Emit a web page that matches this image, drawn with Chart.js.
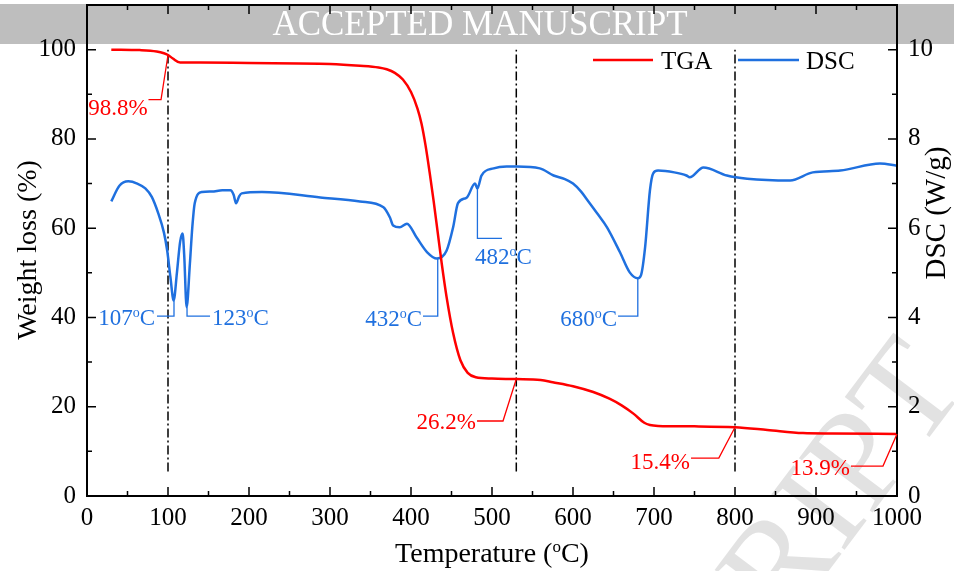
<!DOCTYPE html>
<html>
<head>
<meta charset="utf-8">
<script src="https://cdn.jsdelivr.net/npm/chart.js@4.4.1/dist/chart.umd.min.js"></script>
<style>
  html, body { margin: 0; padding: 0; background: #fff; }
  #wrap { width: 954px; height: 571px; }
</style>
</head>
<body>
<div id="wrap"><canvas id="tgaChart" width="954" height="571"></canvas></div>
<script>
// TGA curve: temperature (°C) vs weight (%)
const tgaTemp = [30, 65, 86, 95, 100, 106, 115, 140, 200, 300, 337, 360, 370, 380, 390, 400, 408, 413, 418, 423, 428, 433, 438, 444, 452, 461, 470, 480, 500, 530, 560, 575, 600, 625, 645, 660, 675, 688, 695, 705, 750, 800, 840, 884, 920, 1000];
const tgaWeight = [100, 99.9, 99.6, 99.2, 98.8, 98.0, 97.1, 97.1, 97.0, 96.8, 96.4, 96.0, 95.6, 94.8, 93.3, 90.5, 86.8, 83.4, 78.5, 72.5, 66.0, 59.0, 52.0, 44.5, 36.5, 30.4, 27.6, 26.6, 26.3, 26.2, 26.0, 25.5, 24.6, 23.3, 21.8, 20.3, 18.4, 16.4, 15.9, 15.7, 15.6, 15.4, 14.8, 14.1, 14.0, 13.9];

// DSC curve: temperature (°C) vs heat flow (W/g)
const dscTemp = [30, 40, 51, 62, 72, 80, 88, 95, 99, 103, 107, 111, 115, 118, 120, 123, 127, 130, 133, 142, 154, 167, 177, 181, 184, 188, 191, 216, 288, 337, 366, 374, 378, 386, 395, 407, 420, 432, 444, 452, 458, 469, 479, 482, 487, 502, 518, 531, 559, 576, 590, 600, 610, 617, 630, 642, 658, 670, 680, 684, 689, 695, 699, 705, 725, 740, 744, 761, 790, 815, 868, 896, 930, 979, 1000];
const dscFlow = [6.60, 6.95, 7.05, 7.00, 6.89, 6.70, 6.33, 5.90, 5.50, 4.90, 4.38, 5.00, 5.70, 5.88, 5.40, 4.23, 5.20, 6.02, 6.56, 6.81, 6.82, 6.85, 6.85, 6.75, 6.56, 6.72, 6.78, 6.81, 6.69, 6.60, 6.47, 6.24, 6.06, 6.02, 6.10, 5.79, 5.46, 5.32, 5.50, 6.02, 6.56, 6.69, 7.00, 6.89, 7.18, 7.34, 7.38, 7.38, 7.34, 7.18, 7.10, 7.00, 6.82, 6.65, 6.33, 6.02, 5.46, 5.01, 4.88, 4.95, 5.57, 6.85, 7.23, 7.29, 7.25, 7.18, 7.14, 7.36, 7.18, 7.11, 7.07, 7.25, 7.29, 7.45, 7.40];

const tempTicks = [0, 100, 200, 300, 400, 500, 600, 700, 800, 900, 1000];
const weightTicks = [0, 20, 40, 60, 80, 100];
const dscTicks = [0, 2, 4, 6, 8, 10];

// dash-dot guide lines
const guideTemps = [100, 530, 800];
const guideSpan = [5.5, 100];

const SERIF = "'Liberation Serif', 'Times New Roman', serif";
const red = '#ff0000';
const blue = '#1f70df';

// callouts: leader path and text anchor in data units
const notes = [
  { text: '98.8%', axis: 'y', color: red, path: [[100, 98.8], [91.4, 88.8], [75.9, 88.8]], at: [74.8, 87.0], align: 'right' },
  { text: '26.2%', axis: 'y', color: red, path: [[530, 26.2], [513.6, 16.8], [481.5, 16.8]], at: [480, 16.6], align: 'right' },
  { text: '15.4%', axis: 'y', color: red, path: [[800, 15.4], [780, 8.5], [745.7, 8.5]], at: [744.4, 7.8], align: 'right' },
  { text: '13.9%', axis: 'y', color: red, path: [[1000, 13.9], [982.7, 6.7], [943.2, 6.7]], at: [942, 6.4], align: 'right' },
  { text: '107°C', axis: 'y2', color: blue, path: [[107.4, 4.38], [107.4, 4.03], [86.4, 4.03]], at: [84, 4.0], align: 'right' },
  { text: '123°C', axis: 'y2', color: blue, path: [[123.5, 4.23], [123.5, 4.03], [151.9, 4.03]], at: [154.3, 4.0], align: 'left' },
  { text: '432°C', axis: 'y2', color: blue, path: [[433, 5.32], [433, 4.03], [414.8, 4.03]], at: [413.6, 3.97], align: 'right' },
  { text: '482°C', axis: 'y2', color: blue, path: [[482, 6.89], [482, 5.77], [512.3, 5.77]], at: [479, 5.36], align: 'left' },
  { text: '680°C', axis: 'y2', color: blue, path: [[680, 4.88], [680, 4.03], [655.6, 4.03]], at: [654.3, 3.97], align: 'right' }
];

function zip(xs, ys) {
  return xs.map((x, i) => ({ x: x, y: ys[i] }));
}

// draws a string, turning "°" into a raised small "o"
function supText(ctx, str, x, y, size, align) {
  const parts = str.split('°');
  const big = size + 'px ' + SERIF;
  const small = Math.round(size * 0.62) + 'px ' + SERIF;
  ctx.font = big;
  const w1 = ctx.measureText(parts[0]).width;
  const w3 = parts.length > 1 ? ctx.measureText(parts[1]).width : 0;
  ctx.font = small;
  const w2 = parts.length > 1 ? ctx.measureText('o').width : 0;
  const total = w1 + w2 + w3;
  let left = x;
  if (align === 'right') left = x - total;
  if (align === 'center') left = x - total / 2;
  ctx.textAlign = 'left';
  ctx.textBaseline = 'alphabetic';
  ctx.font = big;
  ctx.fillText(parts[0], left, y);
  if (parts.length > 1) {
    ctx.font = small;
    ctx.fillText('o', left + w1, y - size * 0.36);
    ctx.font = big;
    ctx.fillText(parts[1], left + w1 + w2, y);
  }
}

const paper = {
  id: 'paper',
  beforeDraw(chart) {
    const ctx = chart.ctx;
    ctx.save();
    ctx.fillStyle = '#fff';
    ctx.fillRect(0, 0, chart.width, chart.height);
    // grey banner
    ctx.fillStyle = '#bebebe';
    ctx.fillRect(0, 4, chart.width, 40);
    ctx.fillStyle = '#fff';
    ctx.font = '35px ' + SERIF;
    ctx.textAlign = 'center';
    ctx.textBaseline = 'alphabetic';
    ctx.fillText('ACCEPTED MANUSCRIPT', 480, 35);
    // faint diagonal watermark
    ctx.translate(968, 386);
    ctx.rotate(-53 * Math.PI / 180);
    ctx.fillStyle = '#e2e2e2';
    ctx.font = '140px ' + SERIF;
    ctx.textAlign = 'right';
    ctx.fillText('ACCEPTED MANUSCRIPT', 0, 0);
    ctx.restore();
  }
};

const frame = {
  id: 'frame',
  afterDatasetsDraw(chart) {
    const { ctx, chartArea: a, scales } = chart;
    const x = scales.x, y = scales.y, y2 = scales.y2;
    ctx.save();
    ctx.strokeStyle = '#000';
    ctx.lineWidth = 1.5;
    ctx.beginPath();
    for (let v = 0; v <= 1000; v += 50) {
      const px = x.getPixelForValue(v);
      const len = v % 100 === 0 ? 9 : 5;
      ctx.moveTo(px, a.bottom); ctx.lineTo(px, a.bottom - len);
      ctx.moveTo(px, a.top); ctx.lineTo(px, a.top + len);
    }
    for (let v = 0; v <= 110; v += 10) {
      const py = y.getPixelForValue(v);
      const len = v % 20 === 0 ? 9 : 5;
      ctx.moveTo(a.left, py); ctx.lineTo(a.left + len, py);
    }
    for (let v = 0; v <= 11; v += 1) {
      const py = y2.getPixelForValue(v);
      const len = v % 2 === 0 ? 9 : 5;
      ctx.moveTo(a.right, py); ctx.lineTo(a.right - len, py);
    }
    ctx.stroke();
    ctx.lineWidth = 2;
    ctx.strokeRect(a.left, a.top, a.right - a.left, a.bottom - a.top);

    // callouts
    notes.forEach(n => {
      const ys = scales[n.axis];
      ctx.strokeStyle = n.color;
      ctx.fillStyle = n.color;
      ctx.lineWidth = 1.3;
      ctx.beginPath();
      n.path.forEach((p, i) => {
        const px = x.getPixelForValue(p[0]);
        const py = ys.getPixelForValue(p[1]);
        if (i === 0) ctx.moveTo(px, py); else ctx.lineTo(px, py);
      });
      ctx.stroke();
      const tx = x.getPixelForValue(n.at[0]);
      const ty = ys.getPixelForValue(n.at[1]);
      supText(ctx, n.text, tx, ty + 23 * 0.33, 23, n.align);
    });

    // legend
    const ds = chart.data.datasets;
    const rows = [[ds[0], 593, 653, 661], [ds[1], 738, 799, 806]];
    rows.forEach(r => {
      ctx.strokeStyle = r[0].borderColor;
      ctx.lineWidth = 2.5;
      ctx.beginPath();
      ctx.moveTo(r[1], 60); ctx.lineTo(r[2], 60);
      ctx.stroke();
      ctx.fillStyle = '#000';
      ctx.font = '25px ' + SERIF;
      ctx.textAlign = 'left';
      ctx.textBaseline = 'alphabetic';
      ctx.fillText(r[0].label, r[3], 69);
    });

    // axis titles
    ctx.fillStyle = '#000';
    supText(ctx, 'Temperature (°C)', (a.left + a.right) / 2, 562, 28, 'center');
    ctx.save();
    ctx.translate(36, 250);
    ctx.rotate(-Math.PI / 2);
    supText(ctx, 'Weight loss (%)', 0, 0, 28, 'center');
    ctx.restore();
    ctx.save();
    ctx.translate(945, 213);
    ctx.rotate(-Math.PI / 2);
    supText(ctx, 'DSC (W/g)', 0, 0, 29, 'center');
    ctx.restore();
    ctx.restore();
  }
};

Chart.defaults.font.family = SERIF;
Chart.defaults.color = '#000';

const tickStyle = { color: '#000', font: { size: 25 }, autoSkip: false, maxRotation: 0, callback: v => String(v) };
const noGrid = { display: false, drawTicks: false };

function fixBox(w, h) {
  return function (s) {
    if (w !== null) s.width = w;
    if (h !== null) s.height = h;
    s.paddingTop = 0;
    s.paddingBottom = 0;
    s.paddingLeft = 0;
    s.paddingRight = 0;
  };
}

new Chart(document.getElementById('tgaChart'), {
  type: 'scatter',
  data: {
    datasets: [
      { label: 'TGA', data: zip(tgaTemp, tgaWeight), yAxisID: 'y', borderColor: red, borderWidth: 2.5, showLine: true, pointRadius: 0, cubicInterpolationMode: 'monotone' },
      { label: 'DSC', data: zip(dscTemp, dscFlow), yAxisID: 'y2', borderColor: blue, borderWidth: 2.5, showLine: true, pointRadius: 0, cubicInterpolationMode: 'monotone' }
    ].concat(guideTemps.map(t => ({
      label: 'guide', data: [{ x: t, y: guideSpan[0] }, { x: t, y: guideSpan[1] }], yAxisID: 'y',
      borderColor: '#000', borderWidth: 1.5, borderDash: [9, 3, 2, 3], showLine: true, pointRadius: 0
    })))
  },
  options: {
    responsive: false,
    animation: false,
    events: [],
    layout: { padding: { top: 5, left: 0, right: 0, bottom: 0 } },
    plugins: { legend: { display: false }, tooltip: { enabled: false } },
    scales: {
      x: {
        type: 'linear', min: 0, max: 1000,
        afterFit: fixBox(null, 75),
        afterBuildTicks(s) { s.ticks = tempTicks.map(v => ({ value: v })); },
        grid: noGrid, border: { display: false },
        ticks: Object.assign({ padding: 7 }, tickStyle)
      },
      y: {
        position: 'left', min: 0, max: 110,
        afterFit: fixBox(87, null),
        afterBuildTicks(s) { s.ticks = weightTicks.map(v => ({ value: v })); },
        grid: noGrid, border: { display: false },
        ticks: Object.assign({ padding: 11 }, tickStyle)
      },
      y2: {
        position: 'right', min: 0, max: 11,
        afterFit: fixBox(57, null),
        afterBuildTicks(s) { s.ticks = dscTicks.map(v => ({ value: v })); },
        grid: noGrid, border: { display: false },
        ticks: Object.assign({ padding: 11 }, tickStyle)
      }
    }
  },
  plugins: [paper, frame]
});
</script>
</body>
</html>
